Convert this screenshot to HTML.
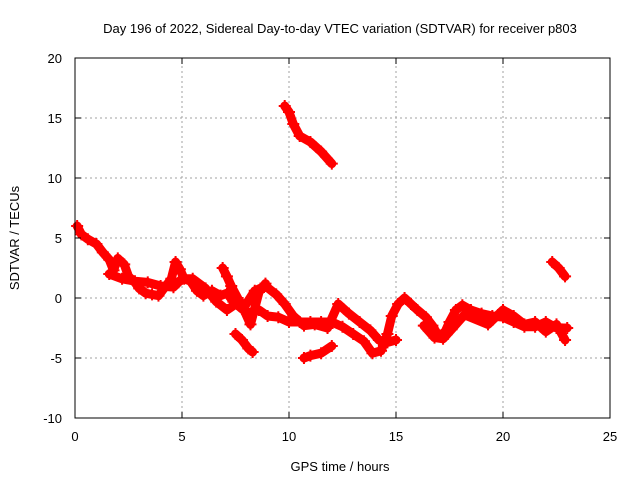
<!DOCTYPE html>
<html><head><meta charset="utf-8"><style>
body{margin:0;background:#fff;}
svg text{font-family:"Liberation Sans",sans-serif;font-size:13px;fill:#000;}
</style></head><body>
<svg id="chart" width="640" height="480">
<rect width="640" height="480" fill="#fff"/>
<text x="340" y="33" text-anchor="middle">Day 196 of 2022, Sidereal Day-to-day VTEC variation (SDTVAR) for receiver p803</text>
<g id="grid"></g><g id="marks"></g><g id="axes"></g>
<text x="340" y="471" text-anchor="middle">GPS time / hours</text>
<text transform="translate(19,238) rotate(-90)" text-anchor="middle">SDTVAR / TECUs</text>
</svg>
<script>
const xTicks=[0,5,10,15,20,25];
const yTicks=[-10,-5,0,5,10,15,20];
const trackMain=[[0.1,6],[0.3,5.3],[0.6,4.9],[1.0,4.5],[1.3,3.8],[1.6,3.2],[1.8,2.3],[2.0,3.3],[2.3,2.8],[2.5,1.8],[2.8,1.3],[3.0,0.8],[3.3,0.4],[3.6,0.3],[3.9,0.2],[4.2,0.9],[4.5,1.6],[4.7,3],[4.9,2.4],[5.1,1.6],[5.4,1.4],[5.7,0.6],[6.0,0.2],[6.4,0.6],[6.8,0.2],[7.1,0.4],[7.4,-0.3],[7.8,-0.9],[8.2,-1.3],[8.6,-1],[9.0,-1.5],[9.5,-1.6],[10,-2],[10.5,-2],[11,-2],[11.5,-2],[12,-2],[12.5,-2.4],[13,-3],[13.5,-3.6],[13.9,-4.6],[14.3,-4.4],[14.6,-3],[14.8,-1.5],[15.1,-0.5],[15.4,0],[15.7,-0.5],[16,-1],[16.4,-1.6],[16.7,-2.3],[17,-3.2],[17.3,-2.8],[17.5,-2],[17.8,-1],[18.1,-0.6],[18.5,-1],[19,-1.3],[19.5,-1.5],[20,-1.6],[20.5,-2],[21,-2.4],[21.5,-2.4],[22,-2],[22.5,-2.5],[23,-2.5]];
const trackSecond=[[1.6,2],[2.2,1.6],[2.8,1.4],[3.4,1.3],[4.0,1],[4.6,0.9],[5.0,1.6],[5.5,1.6],[6.1,0.8],[6.6,-0.3],[7.1,-1],[7.6,-0.4],[8.0,-0.5],[8.4,0.6],[8.9,1],[9.4,0.3],[9.8,-0.5],[10.2,-1.5],[10.7,-2.3],[11.2,-2.2],[11.8,-2.5],[12.3,-0.5],[12.8,-1.3],[13.3,-2],[13.8,-2.7],[14.2,-3.5],[14.6,-3.7],[15.0,-3.5]];
const trackThird=[[6.9,2.5],[7.1,1.8],[7.3,1],[7.6,0],[7.9,-1],[8.2,-2.2],[8.6,0.5],[8.9,1.2]];
const trackHigh=[[9.8,16],[10.0,15.5],[10.2,14.5],[10.5,13.5],[11.0,13],[11.5,12.2],[12.0,11.2]];
const trackLowA=[[7.5,-3],[7.8,-3.5],[8.1,-4.2],[8.3,-4.5]];
const trackLowB=[[10.7,-5],[11.0,-4.8],[11.5,-4.6],[12.0,-4]];
const trackLate=[[16.3,-2.3],[16.8,-3.3],[17.2,-3.4],[17.6,-2.6],[18.2,-1.4],[19.3,-2.2],[20.0,-1],[20.5,-1.5],[21.0,-2.2],[21.5,-2],[22.0,-2.8],[22.5,-2.2],[22.9,-3.5]];
const trackEnd=[[22.3,3],[22.6,2.5],[22.9,1.8]];
const tracks=[trackMain,trackSecond,trackThird,trackHigh,trackLowA,trackLowB,trackLate,trackEnd];
const X0=75,X1=610,Y0=418,Y1=58;
const sx=v=>X0+(v-0)/(25-0)*(X1-X0);
const sy=v=>Y0-(v+10)/(20+10)*(Y0-Y1);
const NS="http://www.w3.org/2000/svg";
function mk(t,a,p){const e=document.createElementNS(NS,t);for(const k in a)e.setAttribute(k,a[k]);p.appendChild(e);return e;}
const g=document.getElementById('grid'),ax=document.getElementById('axes'),m=document.getElementById('marks');
xTicks.forEach(v=>{const x=sx(v);
 if(v>0&&v<25){const l=mk('line',{x1:x,x2:x,y1:Y0,y2:Y1,stroke:'#a0a0a0','stroke-dasharray':'2,3'},g);
 
 }
 mk('line',{x1:x,x2:x,y1:Y0,y2:Y0-6,stroke:'#000'},ax);
 mk('line',{x1:x,x2:x,y1:Y1,y2:Y1+6,stroke:'#000'},ax);
 const t=mk('text',{x:x,y:Y0+23,'text-anchor':'middle'},ax);t.textContent=v;
 
 });
yTicks.forEach(v=>{const y=sy(v);
 if(v>-10&&v<20){const l=mk('line',{x1:X0,x2:X1,y1:y,y2:y,stroke:'#a0a0a0','stroke-dasharray':'2,3'},g);
 
 }
 mk('line',{x1:X0,x2:X0+6,y1:y,y2:y,stroke:'#000'},ax);
 mk('line',{x1:X1,x2:X1-6,y1:y,y2:y,stroke:'#000'},ax);
 const t=mk('text',{x:X0-13,y:y+5,'text-anchor':'end'},ax);t.textContent=v;
 
 });
const fr=mk('rect',{x:X0,y:Y1,width:X1-X0,height:Y0-Y1,fill:'none',stroke:'#000'},ax);


tracks.forEach(tr=>{
 const p=mk('polyline',{points:tr.map(d=>sx(d[0])+','+sy(d[1])).join(' '),fill:'none',stroke:'#ff0000','stroke-width':9,'stroke-linejoin':'round','stroke-linecap':'round'},m);
 
 
 tr.forEach(d=>{const x=sx(d[0]),y=sy(d[1]);
  const pt=mk('path',{d:`M${x-6},${y}H${x+6}M${x},${y-6}V${y+6}`,stroke:'#ff0000','stroke-width':2},m);
  
  });
});
</script>
</body></html>
